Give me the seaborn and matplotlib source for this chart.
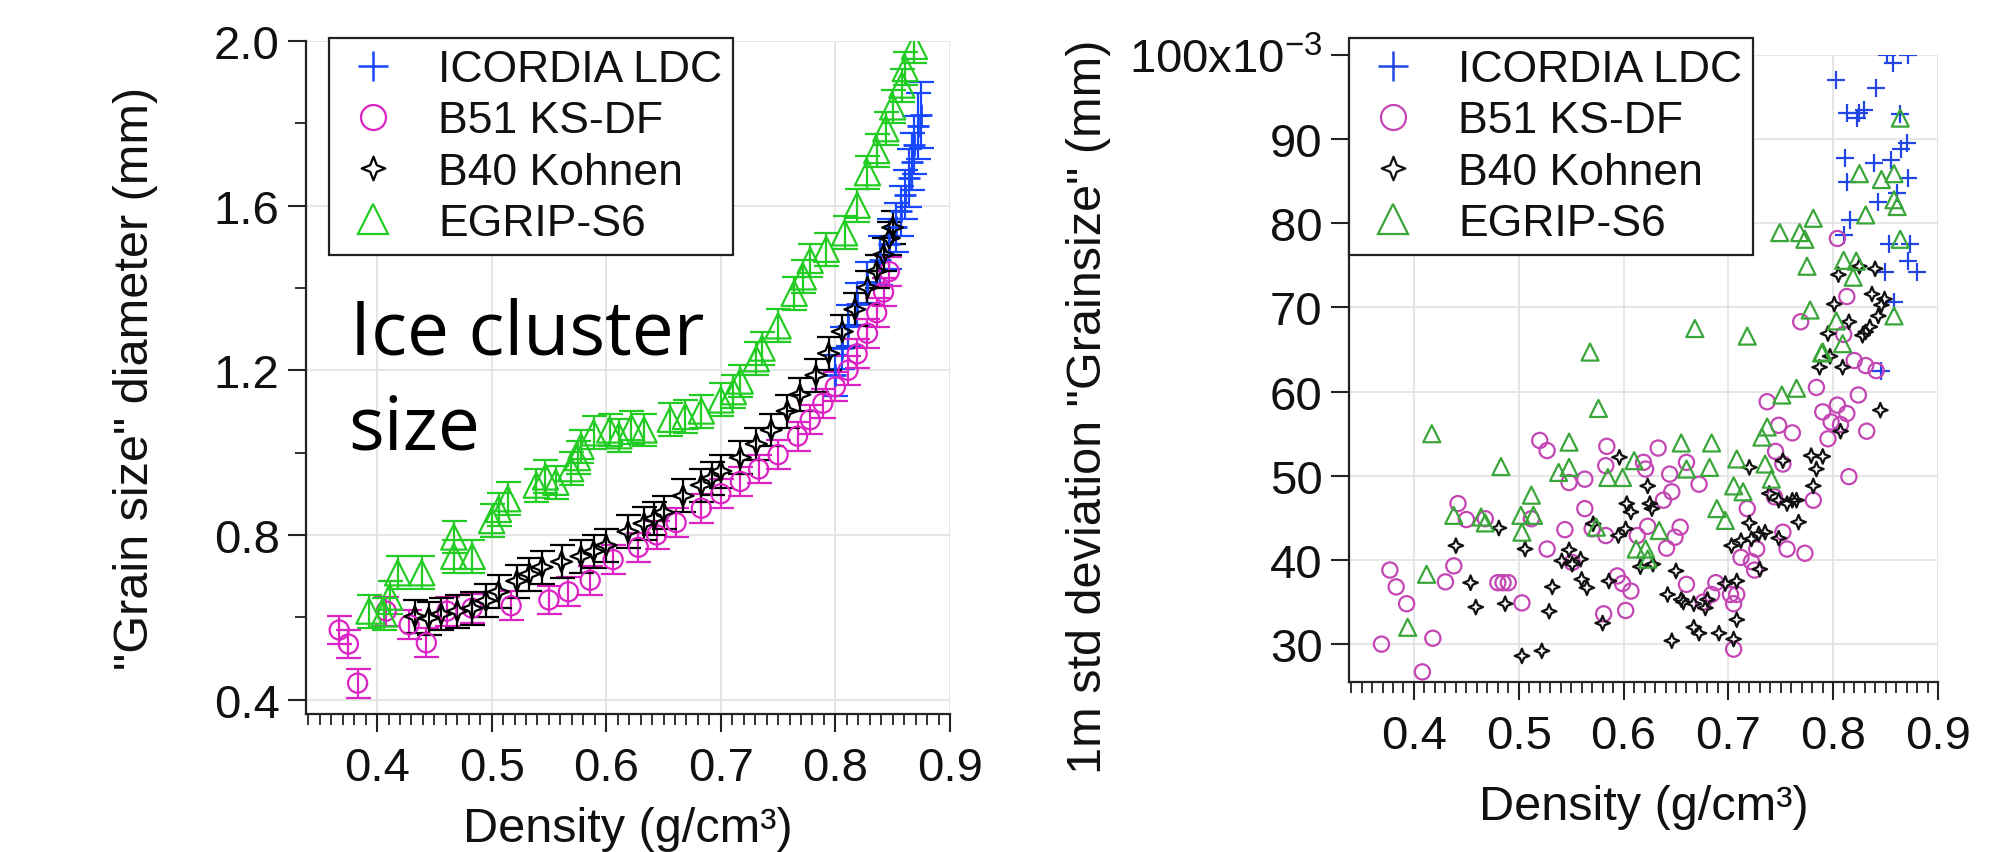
import matplotlib
matplotlib.use("Agg")
import matplotlib.pyplot as plt
from matplotlib.lines import Line2D
from matplotlib.path import Path
from matplotlib.ticker import MultipleLocator, FixedLocator, FuncFormatter
import seaborn as sns

# ---------------- series names ----------------
names = ["ICORDIA LDC", "B51 KS-DF", "B40 Kohnen", "EGRIP-S6"]

# ---------------- grain size diameter (mm) vs density ----------------
icordia_x = [0.800, 0.806, 0.811, 0.819, 0.828, 0.839, 0.847, 0.853, 0.857,
             0.861, 0.864, 0.867, 0.869, 0.872, 0.875]
icordia_y = [1.188, 1.254, 1.308, 1.361, 1.414, 1.467, 1.507, 1.547, 1.587,
             1.627, 1.667, 1.707, 1.747, 1.794, 1.820]
icordia_err = [0.05, 0.05, 0.05, 0.05, 0.05, 0.06, 0.06, 0.06, 0.06,
               0.06, 0.07, 0.07, 0.07, 0.08, 0.08]

b51_x = [0.367, 0.375, 0.383, 0.408, 0.428, 0.443, 0.461, 0.483, 0.517, 0.550,
         0.567, 0.586, 0.606, 0.628, 0.644, 0.661, 0.683, 0.700, 0.717, 0.733,
         0.750, 0.767, 0.778, 0.789, 0.800, 0.811, 0.819, 0.828, 0.836, 0.842,
         0.847]
b51_y = [0.569, 0.535, 0.440, 0.615, 0.582, 0.538, 0.615, 0.622, 0.628, 0.642,
         0.662, 0.690, 0.740, 0.770, 0.800, 0.830, 0.865, 0.900, 0.930, 0.960,
         0.995, 1.040, 1.080, 1.120, 1.160, 1.200, 1.240, 1.290, 1.340, 1.390,
         1.440]
b51_err = 0.035

b40_x = [0.433, 0.445, 0.456, 0.470, 0.483, 0.495, 0.506, 0.522, 0.533, 0.544,
         0.561, 0.578, 0.589, 0.600, 0.619, 0.633, 0.642, 0.650, 0.667, 0.683,
         0.692, 0.700, 0.717, 0.731, 0.744, 0.758, 0.769, 0.783, 0.794, 0.806,
         0.817, 0.828, 0.836, 0.842, 0.847, 0.850]
b40_y = [0.602, 0.598, 0.608, 0.615, 0.622, 0.640, 0.662, 0.688, 0.705, 0.722,
         0.735, 0.748, 0.760, 0.775, 0.808, 0.828, 0.840, 0.855, 0.895, 0.921,
         0.938, 0.955, 0.988, 1.021, 1.055, 1.101, 1.141, 1.188, 1.241, 1.294,
         1.348, 1.401, 1.441, 1.481, 1.521, 1.547]
b40_err = 0.04

egrip_x = [0.393, 0.406, 0.411, 0.418, 0.439, 0.467, 0.467, 0.483, 0.500, 0.506,
           0.514, 0.539, 0.547, 0.556, 0.569, 0.575, 0.578, 0.589, 0.603, 0.611,
           0.622, 0.633, 0.656, 0.669, 0.683, 0.700, 0.711, 0.717, 0.731, 0.736,
           0.750, 0.764, 0.772, 0.778, 0.792, 0.808, 0.819, 0.828, 0.836, 0.844,
           0.850, 0.858, 0.861, 0.869]
egrip_y = [0.615, 0.608, 0.649, 0.708, 0.708, 0.795, 0.748, 0.748, 0.835, 0.862,
           0.888, 0.921, 0.941, 0.928, 0.961, 0.988, 1.015, 1.048, 1.055, 1.041,
           1.061, 1.055, 1.081, 1.088, 1.101, 1.128, 1.148, 1.174, 1.228, 1.254,
           1.308, 1.387, 1.427, 1.467, 1.494, 1.534, 1.601, 1.680, 1.734, 1.787,
           1.840, 1.893, 1.933, 1.987]
egrip_err = 0.04

# ---------------- 1 m standard deviation of grain size (x10^-3 mm) ----------------
sd_icordia_x = [0.851, 0.871, 0.857, 0.803, 0.841, 0.813, 0.825, 0.829, 0.823,
                0.864, 0.870, 0.865, 0.811, 0.839, 0.855, 0.871, 0.813, 0.843,
                0.861, 0.816, 0.853, 0.873, 0.810, 0.871, 0.880, 0.849, 0.858,
                0.846]
sd_icordia_y = [100.0, 100.0, 99.0, 97.0, 96.1, 93.1, 93.1, 93.5, 92.5,
                93.0, 89.6, 88.8, 87.8, 87.2, 87.5, 85.4, 84.9, 82.5,
                83.6, 80.4, 77.6, 77.6, 78.6, 75.5, 74.2, 74.2, 70.7,
                62.4]

sd_b51_x = [0.369, 0.377, 0.383, 0.393, 0.408, 0.418, 0.430, 0.438, 0.442, 0.450,
            0.468, 0.480, 0.485, 0.490, 0.503, 0.512, 0.520, 0.527, 0.527, 0.544,
            0.548, 0.551, 0.563, 0.563, 0.570, 0.581, 0.584, 0.583, 0.583, 0.594,
            0.599, 0.602, 0.607, 0.613, 0.619, 0.621, 0.623, 0.633, 0.638, 0.641,
            0.644, 0.646, 0.649, 0.654, 0.660, 0.660, 0.672, 0.676, 0.684, 0.688,
            0.702, 0.705, 0.705, 0.708, 0.712, 0.718, 0.722, 0.725, 0.727, 0.737,
            0.744, 0.748, 0.752, 0.756, 0.761, 0.769, 0.745, 0.752, 0.773, 0.781,
            0.784, 0.790, 0.795, 0.798, 0.804, 0.807, 0.813, 0.815, 0.820, 0.824,
            0.831, 0.832, 0.841, 0.804, 0.813, 0.810]
sd_b51_y = [30.0, 38.8, 36.8, 34.8, 26.7, 30.7, 37.4, 39.3, 46.7, 44.8,
            44.9, 37.3, 37.3, 37.3, 34.9, 44.9, 54.2, 53.0, 41.3, 43.6,
            49.2, 39.7, 49.6, 46.1, 43.7, 33.6, 53.5, 51.2, 42.9, 38.1,
            37.2, 34.0, 36.3, 42.9, 51.6, 50.8, 44.0, 53.3, 47.1, 41.4,
            50.2, 48.1, 42.7, 43.9, 51.6, 37.1, 49.0, 35.0, 35.9, 37.3,
            35.9, 34.8, 29.4, 35.9, 40.3, 46.1, 39.8, 38.8, 41.3, 58.8,
            47.5, 56.0, 43.3, 41.3, 55.1, 68.3, 52.9, 51.4, 40.8, 47.1,
            60.5, 57.6, 54.4, 56.4, 58.4, 56.1, 57.4, 49.9, 63.7, 59.6,
            63.1, 55.3, 62.5, 78.2, 71.3, 66.8]

sd_b40_x = [0.440, 0.454, 0.459, 0.481, 0.487, 0.506, 0.503, 0.522, 0.529, 0.532,
            0.541, 0.548, 0.551, 0.559, 0.560, 0.565, 0.571, 0.580, 0.586, 0.595,
            0.596, 0.602, 0.603, 0.607, 0.616, 0.623, 0.625, 0.627, 0.628, 0.642,
            0.646, 0.650, 0.655, 0.657, 0.667, 0.667, 0.672, 0.678, 0.680, 0.691,
            0.697, 0.703, 0.705, 0.708, 0.708, 0.712, 0.720, 0.720, 0.722, 0.729,
            0.730, 0.735, 0.739, 0.748, 0.748, 0.752, 0.756, 0.761, 0.765, 0.767,
            0.779, 0.781, 0.784, 0.787, 0.790, 0.795, 0.801, 0.807, 0.809, 0.815,
            0.828, 0.835, 0.845, 0.805, 0.797, 0.825, 0.837, 0.840, 0.846, 0.843,
            0.849, 0.831]
sd_b40_y = [41.7, 37.3, 34.4, 43.8, 34.8, 41.3, 28.6, 29.2, 33.9, 36.8,
            39.9, 41.2, 39.5, 40.1, 37.7, 36.7, 44.3, 32.5, 37.5, 42.9,
            52.2, 43.7, 46.7, 45.7, 39.2, 48.8, 46.7, 46.1, 39.5, 35.9,
            30.4, 38.7, 35.3, 35.0, 34.8, 32.0, 31.3, 34.3, 35.3, 31.3,
            37.2, 41.7, 30.6, 32.9, 37.5, 42.3, 44.4, 51.0, 42.5, 43.1,
            38.9, 43.3, 47.9, 47.1, 42.6, 51.8, 46.7, 47.1, 47.1, 44.5,
            52.4, 48.8, 50.8, 62.9, 52.3, 66.9, 70.4, 55.3, 62.9, 68.3,
            66.7, 67.7, 57.8, 73.9, 64.2, 74.9, 71.6, 74.6, 70.3, 69.0,
            71.0, 67.1]

sd_egrip_x = [0.394, 0.412, 0.417, 0.438, 0.464, 0.468, 0.483, 0.502, 0.503, 0.512,
              0.514, 0.538, 0.548, 0.548, 0.568, 0.576, 0.574, 0.585, 0.599, 0.610,
              0.612, 0.621, 0.623, 0.634, 0.655, 0.660, 0.668, 0.682, 0.684, 0.689,
              0.697, 0.708, 0.705, 0.714, 0.718, 0.732, 0.735, 0.737, 0.741, 0.751,
              0.765, 0.778, 0.790, 0.809, 0.749, 0.768, 0.773, 0.781, 0.775, 0.789,
              0.803, 0.810, 0.822, 0.819, 0.825, 0.831, 0.846, 0.858, 0.864, 0.858,
              0.861, 0.864, 0.858]
sd_egrip_y = [32.0, 38.3, 55.0, 45.3, 45.1, 44.4, 51.1, 45.3, 43.3, 47.7,
              45.3, 50.4, 54.0, 51.0, 64.7, 58.0, 43.9, 49.8, 49.8, 51.8,
              41.3, 41.3, 40.1, 43.5, 53.9, 50.8, 67.5, 51.0, 53.9, 46.1,
              44.7, 52.0, 48.8, 48.1, 66.6, 54.6, 51.4, 55.8, 49.6, 59.6,
              60.4, 69.7, 64.7, 65.7, 78.9, 78.9, 78.1, 80.6, 74.9, 64.6,
              68.4, 75.6, 75.5, 73.6, 85.9, 81.0, 85.2, 85.9, 92.5, 82.8,
              82.0, 78.1, 69.0]

# ---------------- styling ----------------
sns.set_theme(style="ticks")
plt.rcParams.update({
    "font.family": ["Liberation Sans", "DejaVu Sans"],
    "mathtext.fontset": "custom",
    "mathtext.rm": "Liberation Sans",
    "mathtext.it": "Liberation Sans:italic",
    "mathtext.bf": "Liberation Sans:bold",
    "axes.edgecolor": "#222222",
    "axes.linewidth": 1.6,
    "axes.facecolor": "white",
    "figure.facecolor": "white",
})

# four-pointed open star used for the Kohnen series
star_path = Path([(0, 1), (0.28, 0.28), (1, 0), (0.28, -0.28), (0, -1),
                  (-0.28, -0.28), (-1, 0), (-0.28, 0.28), (0, 1)],
                 [Path.MOVETO] + [Path.LINETO] * 7 + [Path.CLOSEPOLY])

W, H = 1989, 853
fig = plt.figure(figsize=(W / 100, H / 100), dpi=100)
ax1 = fig.add_axes([306 / W, 1 - 715 / H, (950 - 306) / W, (715 - 42) / H])
ax2 = fig.add_axes([1349 / W, 1 - 683 / H, (1938 - 1349) / W, (683 - 56) / H])

left_cols = {"ICORDIA LDC": "#1747ff", "B51 KS-DF": "#dc22c4",
             "B40 Kohnen": "#000000", "EGRIP-S6": "#22cc22"}
right_cols = {"ICORDIA LDC": "#2246e6", "B51 KS-DF": "#c446b4",
              "B40 Kohnen": "#111111", "EGRIP-S6": "#3aa63a"}
markers = {"ICORDIA LDC": "+", "B51 KS-DF": "o",
           "B40 Kohnen": star_path, "EGRIP-S6": "^"}

# ---- left panel: mean diameter with error bars ----
left_series = [
    ("ICORDIA LDC", icordia_x, icordia_y, icordia_err, 260),
    ("B51 KS-DF", b51_x, b51_y, b51_err, 190),
    ("B40 Kohnen", b40_x, b40_y, b40_err, 230),
    ("EGRIP-S6", egrip_x, egrip_y, egrip_err, 330),
]
for name, xs, ys, err, size in left_series:
    col = left_cols[name]
    ax1.errorbar(xs, ys, yerr=err, fmt="none", ecolor=col, elinewidth=1.6,
                 capsize=9, capthick=1.6, zorder=2)
    if markers[name] == "+":
        sns.scatterplot(x=xs, y=ys, ax=ax1, marker="+", s=size, color=col,
                        linewidth=2.0, zorder=3)
    else:
        sns.scatterplot(x=xs, y=ys, ax=ax1, marker=markers[name], s=size,
                        facecolor="none", edgecolor=col, linewidth=1.6, zorder=3)

# ---- right panel: standard deviation scatter ----
right_series = [
    ("ICORDIA LDC", sd_icordia_x, sd_icordia_y, 150),
    ("B51 KS-DF", sd_b51_x, sd_b51_y, 120),
    ("B40 Kohnen", sd_b40_x, sd_b40_y, 110),
    ("EGRIP-S6", sd_egrip_x, sd_egrip_y, 150),
]
for name, xs, ys, size in right_series:
    col = right_cols[name]
    if markers[name] == "+":
        sns.scatterplot(x=xs, y=ys, ax=ax2, marker="+", s=size, color=col,
                        linewidth=1.6, zorder=3)
    else:
        sns.scatterplot(x=xs, y=ys, ax=ax2, marker=markers[name], s=size,
                        facecolor="none", edgecolor=col, linewidth=1.6, zorder=3)

# ---- axes formatting ----
for ax in (ax1, ax2):
    sns.despine(ax=ax)
    ax.set_axisbelow(True)
    ax.grid(True, which="major", color="#e4e4e4", linewidth=1.3)
    ax.set_xlim(0.338, 0.9)
    ax.xaxis.set_major_locator(FixedLocator([0.4, 0.5, 0.6, 0.7, 0.8, 0.9]))
    ax.xaxis.set_minor_locator(MultipleLocator(0.01))
    ax.xaxis.set_major_formatter(FuncFormatter(lambda v, p: f"{v:.1f}"))
    ax.tick_params(axis="both", which="major", direction="out", length=13,
                   width=1.5, color="#222222", labelsize=34, labelcolor="#111111")
    ax.tick_params(axis="x", which="major", pad=10)
    ax.tick_params(axis="y", which="major", pad=6)
    ax.tick_params(axis="x", which="minor", direction="out", length=8,
                   width=1.3, color="#222222")
    ax.set_xlabel("Density (g/cm³)", fontsize=35, color="#111111", va="baseline")

ax1.set_ylim(0.365, 2.0)
ax1.yaxis.set_major_locator(FixedLocator([0.4, 0.8, 1.2, 1.6, 2.0]))
ax1.yaxis.set_minor_locator(FixedLocator([0.6, 1.0, 1.4, 1.8]))
ax1.yaxis.set_major_formatter(FuncFormatter(lambda v, p: f"{v:.1f}"))
ax1.tick_params(axis="y", which="minor", direction="out", length=8,
                width=1.3, color="#222222")
ax1.set_ylabel('"Grain size" diameter (mm)', fontsize=35, color="#111111", va="center")
ax1.yaxis.set_label_coords(-0.264, 0.5)
ax1.xaxis.set_label_coords(0.5, -(842 - 715) / (715 - 42))

ax2.set_ylim(25.5, 100)
ax2.yaxis.set_major_locator(FixedLocator([30, 40, 50, 60, 70, 80, 90, 100]))
ax2.yaxis.set_minor_locator(FixedLocator([]))
ax2.yaxis.set_major_formatter(FuncFormatter(
    lambda v, p: r"100x10$^{\mathregular{-3}}$" if round(v) == 100 else f"{v:.0f}"))
ax2.set_ylabel('1m std deviation "Grainsize" (mm)', fontsize=35, color="#111111",
               va="center")
ax2.yaxis.set_label_coords(-0.443, 0.44)
ax2.xaxis.set_label_coords(0.5, -(820 - 683) / (683 - 56))

# ---- legends ----
def legend_handles(cols, sizes):
    hs = []
    for name in names:
        m = markers[name]
        if m == "+":
            hs.append(Line2D([], [], ls="none", marker="+", ms=sizes[name],
                             mew=1.8, color=cols[name]))
        else:
            hs.append(Line2D([], [], ls="none", marker=m, ms=sizes[name],
                             mfc="none", mec=cols[name], mew=1.6))
    return hs

leg_sizes = {"ICORDIA LDC": 22, "B51 KS-DF": 18, "B40 Kohnen": 17, "EGRIP-S6": 21}
for ax, cols, x0, y0 in ((ax1, left_cols, 329, 39), (ax2, right_cols, 1349, 39)):
    leg = ax.legend(legend_handles(cols, leg_sizes), names, loc="upper left",
                    bbox_to_anchor=(x0 / W, 1 - y0 / H), bbox_transform=fig.transFigure,
                    frameon=True, fancybox=False, edgecolor="#222222", framealpha=1,
                    fontsize=32, borderpad=0.25, labelspacing=0.23,
                    handlelength=1.5, handletextpad=0.7, borderaxespad=0)
    leg.get_frame().set_linewidth(1.6)
    for t in leg.get_texts():
        t.set_color("#111111")

# ---- annotation on the left panel ----
fig.text(350 / W, 1 - 355 / H, "Ice cluster", fontsize=54, family="Open Sans",
         color="black", ha="left", va="baseline")
fig.text(348 / W, 1 - 450 / H, "size", fontsize=54, family="Open Sans",
         color="black", ha="left", va="baseline")

fig.savefig("out.png", dpi=100)
